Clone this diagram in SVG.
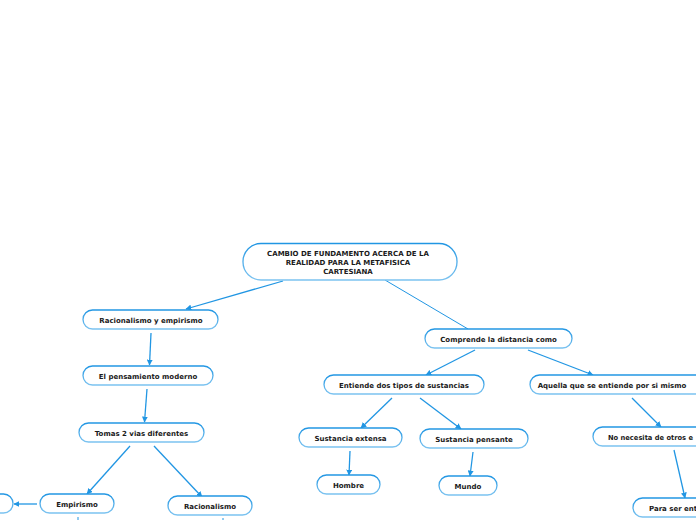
<svg xmlns="http://www.w3.org/2000/svg" width="696" height="520" viewBox="0 0 696 520">
<defs>
<linearGradient id="bd" x1="0" y1="0" x2="0" y2="1">
<stop offset="0" stop-color="#2196e3"/>
<stop offset="1" stop-color="#7cc3f0"/>
</linearGradient>
<marker id="ah" viewBox="0 0 10 10" refX="9" refY="5" markerWidth="6" markerHeight="6" orient="auto" markerUnits="userSpaceOnUse">
<path d="M0,0 L10,5 L0,10 z" fill="#2196e3"/>
</marker>
</defs>
<style>
.n rect{fill:#fff;stroke:url(#bd);stroke-width:1.3}
.n text{font-family:"DejaVu Sans",Verdana,sans-serif;font-weight:bold;font-size:7px;fill:#1a1a1a;text-anchor:middle}
.c line{stroke:#2196e3;stroke-width:1.3;marker-end:url(#ah)}
.c line.p{marker-end:none;stroke-width:1}
</style>
<rect width="696" height="520" fill="#fff"/>
<g class="c">
<line x1="283" y1="281" x2="186" y2="309"/>
<line class="p" x1="385" y1="280" x2="468" y2="329"/>
<line x1="151" y1="333" x2="149.5" y2="365"/>
<line x1="147" y1="389" x2="144.5" y2="422"/>
<line x1="130" y1="446" x2="87" y2="494"/>
<line x1="154" y1="446" x2="202" y2="497"/>
<line x1="37" y1="504" x2="14" y2="504"/>
<line class="p" x1="78" y1="517" x2="78" y2="520"/>
<line class="p" x1="223" y1="518" x2="223" y2="520"/>
<line x1="475" y1="350" x2="426" y2="375"/>
<line x1="528" y1="350" x2="593" y2="375"/>
<line x1="392" y1="398" x2="361" y2="428"/>
<line x1="420" y1="398" x2="461" y2="429"/>
<line x1="350" y1="451" x2="349" y2="475"/>
<line x1="473" y1="452" x2="470" y2="476"/>
<line x1="632" y1="398" x2="661" y2="427"/>
<line x1="674" y1="450" x2="685" y2="498"/>
</g>
<g id="root" class="n"><rect x="243" y="243.5" width="214" height="36.5" rx="18"/>
<text x="348" y="256">CAMBIO DE FUNDAMENTO ACERCA DE LA</text>
<text x="348" y="265">REALIDAD PARA LA METAFISICA</text>
<text x="348" y="274">CARTESIANA</text></g>
<g id="ryE" class="n"><rect x="83" y="310" width="135" height="19" rx="9.5"/><text x="151" y="323">Racionalismo y empirismo</text></g>
<g id="pens" class="n"><rect x="83" y="366" width="130" height="19" rx="9.5"/><text x="148" y="378.5">El pensamiento moderno</text></g>
<g id="tomas" class="n"><rect x="79" y="423" width="125" height="19" rx="9.5"/><text x="141.5" y="435.5">Tomas 2 vias diferentes</text></g>
<g id="empir" class="n"><rect x="40" y="494" width="74" height="19" rx="9.5"/><text x="77" y="506.5">Empirismo</text></g>
<g id="left" class="n"><rect x="-30" y="494" width="43" height="19" rx="9.5"/></g>
<g id="racion" class="n"><rect x="168" y="496" width="84" height="19" rx="9.5"/><text x="210" y="508.5">Racionalismo</text></g>
<g id="compr" class="n"><rect x="425" y="329" width="147" height="19" rx="9.5"/><text x="498.5" y="341.5">Comprende la distancia como</text></g>
<g id="entiende" class="n"><rect x="324" y="375" width="160" height="19" rx="9.5"/><text x="404" y="387.5">Entiende dos tipos de sustancias</text></g>
<g id="aquella" class="n"><rect x="530" y="375" width="180" height="19" rx="9.5"/><text x="612" y="387.5">Aquella que se entiende por si mismo</text></g>
<g id="sext" class="n"><rect x="299" y="428" width="103" height="19" rx="9.5"/><text x="350.5" y="440.5">Sustancia extensa</text></g>
<g id="spens" class="n"><rect x="420" y="429" width="108" height="19" rx="9.5"/><text x="474" y="441.5">Sustancia pensante</text></g>
<g id="hombre" class="n"><rect x="317" y="475" width="63" height="19" rx="9.5"/><text x="348.5" y="487.5">Hombre</text></g>
<g id="mundo" class="n"><rect x="439" y="476" width="58" height="19" rx="9.5"/><text x="468" y="488.5">Mundo</text></g>
<g id="nonec" class="n"><rect x="593" y="427" width="140" height="19" rx="9.5"/><text x="608" y="439.5" style="text-anchor:start" textLength="85" lengthAdjust="spacingAndGlyphs">No necesita de otros e</text></g>
<g id="para" class="n"><rect x="633" y="498" width="120" height="19" rx="9.5"/><text x="649" y="510.5" style="text-anchor:start">Para ser ent</text></g>
</svg>
